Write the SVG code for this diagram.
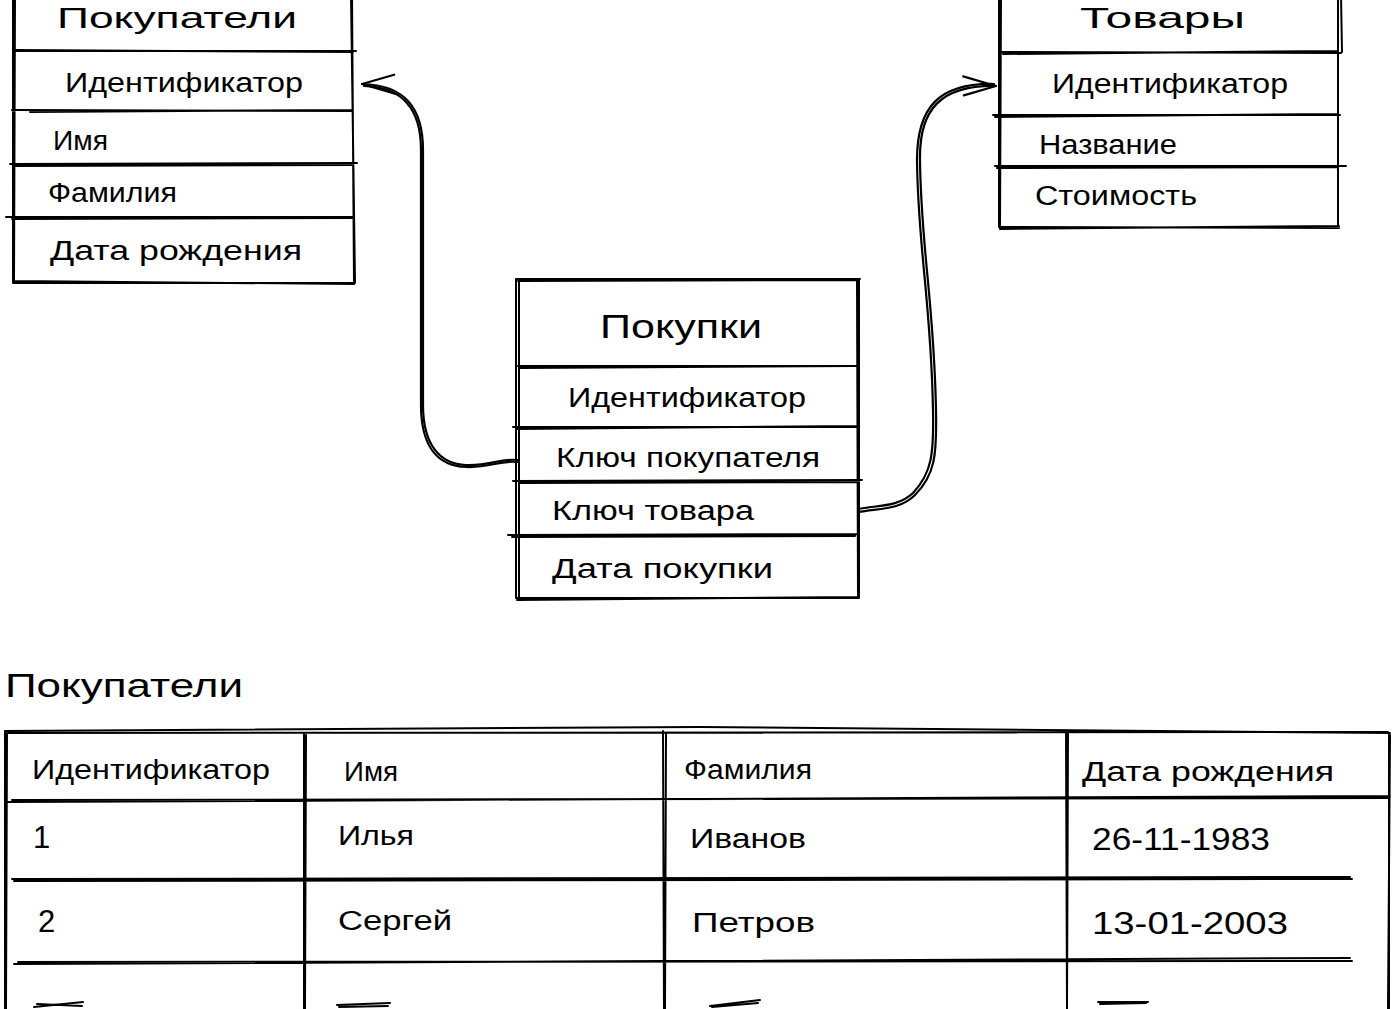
<svg xmlns="http://www.w3.org/2000/svg" width="1392" height="1009" viewBox="0 0 1392 1009">
<style>
.ln{fill:none;stroke:#000;stroke-width:2;stroke-linecap:round;stroke-linejoin:round}
.cn{fill:none;stroke:#000;stroke-width:2.2;stroke-linecap:round;stroke-linejoin:round}
.t{font-family:"Liberation Sans","Noto Sans",sans-serif;font-size:27px;fill:#000}
.n{font-family:"Liberation Sans","Noto Sans",sans-serif;font-size:31px;fill:#000}
.h{font-family:"Liberation Sans","Noto Sans",sans-serif;font-size:34px;fill:#000}
.ht{font-family:"Liberation Sans","Noto Sans",sans-serif;font-size:30px;fill:#000}
</style>
<defs>
<marker id="arr" markerUnits="userSpaceOnUse" markerWidth="50" markerHeight="50" viewBox="-40 -20 50 40" refX="0" refY="0" orient="auto">
<path d="M-33 -9 L0 0 L-32 10" fill="none" stroke="#000" stroke-width="2.2" stroke-linecap="round" stroke-linejoin="round"/>
</marker>
</defs>
<rect width="1392" height="1009" fill="#fff"/>

<g id="connectors">
<path class="cn" marker-end="url(#arr)" d="M518 460 C500 458,490 466,466 465 C440 464,423 445,423 405 L423 150 C423 108,405 85,362 84"/>
<path class="cn" d="M517 462 C500 460,490 468,466 467 C438 466,421 447,421 405 L421 150 C421 110,403 87,364 86"/>
<path class="cn" marker-end="url(#arr)" d="M858 512 C880 508,900 510,915 495 C935 475,937 455,936 410 C934 300,921 250,920 160 C919 110,940 85,996 86"/>
<path class="cn" d="M858 509 C880 505,898 507,913 493 C932 473,934 453,933 410 C931 300,918 250,917 160 C917 108,938 83,994 84"/>
</g>

<g id="node-pokupateli">
<path class="ln" d="M13 -5 L13 283 M15 -5 L14 282 M352 -5 L354 283 M351 -5 L355 282 M13 51 L356 51 M16 50 L353 52 M12 110 L352 111 M30 112 L352 110 M10 164 L357 163 M13 166 L352 165 M6 217 L354 217 M12 219 L352 218 M13 283 L355 283 M14 281 L354 284"/>
<text class="ht" x="57" y="28" textLength="240" lengthAdjust="spacingAndGlyphs">Покупатели</text>
<text class="t" x="65" y="92" textLength="238" lengthAdjust="spacingAndGlyphs">Идентификатор</text>
<text class="t" x="53" y="150" textLength="55" lengthAdjust="spacingAndGlyphs">Имя</text>
<text class="t" x="48" y="202" textLength="129" lengthAdjust="spacingAndGlyphs">Фамилия</text>
<text class="t" x="50" y="260" textLength="252" lengthAdjust="spacingAndGlyphs">Дата рождения</text>
</g>

<g id="node-tovary">
<path class="ln" d="M999 -5 L999 227 M1001 -5 L1000 228 M1338 -5 L1338 227 M1341 -5 L1342 52 M1001 52 L1341 53 M1003 54 L1338 51 M993 115 L1340 115 M995 117 L1338 114 M995 166 L1346 166 M997 168 L1338 167 M999 227 L1339 228 M1000 229 L1339 226"/>
<text class="ht" x="1080" y="28" textLength="165" lengthAdjust="spacingAndGlyphs">Товары</text>
<text class="t" x="1052" y="93" textLength="236" lengthAdjust="spacingAndGlyphs">Идентификатор</text>
<text class="t" x="1039" y="154" textLength="138" lengthAdjust="spacingAndGlyphs">Название</text>
<text class="t" x="1035" y="205" textLength="162" lengthAdjust="spacingAndGlyphs">Стоимость</text>
</g>

<g id="node-pokupki">
<path class="ln" d="M516 279 L860 279 M518 281 L858 280 M516 279 L516 598 M519 282 L519 597 M859 279 L859 598 M857 280 L858 597 M518 366 L859 366 M520 368 L856 366 M513 427 L858 427 M516 429 L857 426 M513 481 L862 480 M520 483 L858 482 M508 535 L858 534 M512 537 L855 536 M516 598 L859 598 M517 600 L858 597"/>
<text class="h" x="600" y="338" textLength="162" lengthAdjust="spacingAndGlyphs">Покупки</text>
<text class="t" x="568" y="407" textLength="238" lengthAdjust="spacingAndGlyphs">Идентификатор</text>
<text class="t" x="556" y="467" textLength="264" lengthAdjust="spacingAndGlyphs">Ключ покупателя</text>
<text class="t" x="552" y="520" textLength="202" lengthAdjust="spacingAndGlyphs">Ключ товара</text>
<text class="t" x="552" y="578" textLength="221" lengthAdjust="spacingAndGlyphs">Дата покупки</text>
</g>

<g id="title-table">
<text class="h" x="5" y="697" textLength="238" lengthAdjust="spacingAndGlyphs">Покупатели</text>
</g>

<g id="table-pokupateli">
<path class="ln" d="M5 731 L700 727 L1390 733 M8 733 L1388 732 M5 731 L5 1009 M7 733 L6 1009 M1389 733 L1389 1009 M1390 735 L1388 1009 M304 733 L304 1009 M306 735 L305 1009 M663 731 L664 1009 M666 733 L665 1009 M1066 731 L1067 1009 M1068 733 L1067 1009 M8 802 L1390 796 M12 800 L1388 798 M12 879 L1350 877 M14 881 L1352 879 M14 964 L1350 958 M18 962 L1352 961"/>
<text class="t" x="32" y="779" textLength="238" lengthAdjust="spacingAndGlyphs">Идентификатор</text>
<text class="t" x="344" y="781" textLength="54" lengthAdjust="spacingAndGlyphs">Имя</text>
<text class="t" x="684" y="779" textLength="128" lengthAdjust="spacingAndGlyphs">Фамилия</text>
<text class="t" x="1082" y="781" textLength="252" lengthAdjust="spacingAndGlyphs">Дата рождения</text>
<text class="n" x="33" y="848">1</text>
<text class="t" x="338" y="845" textLength="76" lengthAdjust="spacingAndGlyphs">Илья</text>
<text class="t" x="690" y="848" textLength="116" lengthAdjust="spacingAndGlyphs">Иванов</text>
<text class="n" x="1092" y="850" textLength="178" lengthAdjust="spacingAndGlyphs">26-11-1983</text>
<text class="n" x="38" y="932">2</text>
<text class="t" x="338" y="930" textLength="114" lengthAdjust="spacingAndGlyphs">Сергей</text>
<text class="t" x="692" y="932" textLength="123" lengthAdjust="spacingAndGlyphs">Петров</text>
<text class="n" x="1092" y="934" textLength="196" lengthAdjust="spacingAndGlyphs">13-01-2003</text>
<path class="ln" d="M34 1007 L83 1002 M37 1004 L82 1006 M337 1005 L390 1003 M339 1007 L388 1006 M710 1006 L760 1000 M712 1007 L758 1003 M1098 1002 L1148 1002 M1100 1004 L1146 1003"/>
</g>
</svg>
